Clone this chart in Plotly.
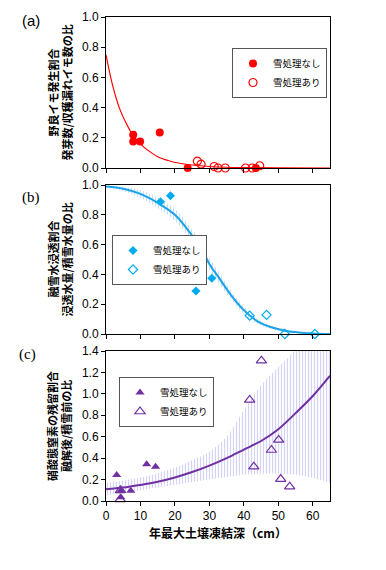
import plotly.graph_objects as go

# ---------------- data ----------------
# (a) volunteer potato emergence ratio
a_no_x = [7.9, 7.9, 9.9, 15.6, 23.7, 43.5]
a_no_y = [0.22, 0.175, 0.175, 0.235, 0.0, 0.0]
a_yes_x = [26.5, 27.6, 31.4, 32.5, 34.6, 40.5, 42.4, 44.6]
a_yes_y = [0.045, 0.025, 0.01, 0.0, 0.0, 0.0, 0.0, 0.015]
a_fit_x = [0, 2, 4, 6, 8, 10, 12, 15, 18, 21, 25, 30, 35, 40, 50, 65]
a_fit_y = [0.75, 0.54, 0.39, 0.29, 0.21, 0.16, 0.12, 0.075, 0.05, 0.033, 0.02, 0.01, 0.005, 0.003, 0.001, 0.0]

# (b) snowmelt infiltration ratio
b_no_x = [15.8, 18.7, 26.1, 30.7]
b_no_y = [0.888, 0.928, 0.289, 0.374]
b_yes_x = [41.7, 46.6, 51.9, 60.6]
b_yes_y = [0.123, 0.128, 0.0, 0.0]
b_fit_x = [0, 5, 10, 15, 20, 25, 28, 30, 33, 36, 40, 44, 48, 52, 56, 60, 65]
b_fit_y = [0.99, 0.975, 0.94, 0.88, 0.80, 0.66, 0.56, 0.47, 0.37, 0.27, 0.16, 0.085, 0.045, 0.022, 0.01, 0.004, 0.0]
b_lo = [0.985, 0.96, 0.915, 0.845, 0.76, 0.62, 0.52, 0.43, 0.33, 0.24, 0.135, 0.068, 0.033, 0.014, 0.006, 0.002, 0.0]
b_hi = [0.995, 0.99, 0.965, 0.915, 0.84, 0.70, 0.60, 0.51, 0.41, 0.30, 0.185, 0.10, 0.057, 0.03, 0.014, 0.006, 0.001]

# (c) residual nitrate ratio
c_no_x = [3.1, 4.3, 4.3, 7.2, 11.8, 14.4]
c_no_y = [0.243, 0.096, 0.035, 0.096, 0.342, 0.32]
c_yes_x = [4.1, 4.2, 41.7, 45.1, 42.9, 48.0, 50.1, 50.7, 53.3]
c_yes_y = [0.015, 0.1, 0.943, 1.31, 0.32, 0.476, 0.57, 0.205, 0.134]
c_fit_x = [0, 5, 10, 15, 20, 25, 30, 35, 40, 45, 50, 55, 60, 65]
c_fit_y = [0.11, 0.125, 0.15, 0.18, 0.22, 0.27, 0.33, 0.40, 0.48, 0.56, 0.67, 0.82, 0.98, 1.17]
c_lo = [0.05, 0.075, 0.1, 0.125, 0.15, 0.175, 0.2, 0.225, 0.245, 0.255, 0.255, 0.245, 0.215, 0.17]
c_hi = [0.17, 0.19, 0.22, 0.26, 0.31, 0.38, 0.46, 0.60, 0.85, 1.08, 1.25, 1.42, 1.8, 2.3]

x_ticks = [0, 10, 20, 30, 40, 50, 60]
lab_no = "雪処理なし"
lab_yes = "雪処理あり"

RED = "#ff0000"
BLUE = "#00aaee"
BLUE_L = "#8cbcf0"
PUR = "#7030a0"
PUR_L = "#a8a8f2"
JP = "Noto Sans CJK JP"
NUM = "Liberation Sans, Arial"

fig = go.Figure()

# ---- panel (a)
fig.add_trace(go.Scatter(x=a_fit_x, y=a_fit_y, mode="lines", line=dict(color=RED, width=1.2, shape="spline"),
                         showlegend=False, xaxis="x", yaxis="y", cliponaxis=False))
fig.add_trace(go.Scatter(x=a_no_x, y=a_no_y, mode="markers", name=lab_no,
                         marker=dict(symbol="circle", size=8, color=RED),
                         xaxis="x", yaxis="y", legend="legend", cliponaxis=False))
fig.add_trace(go.Scatter(x=a_yes_x, y=a_yes_y, mode="markers", name=lab_yes,
                         marker=dict(symbol="circle-open", size=8, color=RED, line=dict(width=1.2)),
                         xaxis="x", yaxis="y", legend="legend", cliponaxis=False))

# ---- panel (b)
fig.add_trace(go.Scatter(x=b_fit_x, y=b_lo, mode="lines", line=dict(width=0, shape="spline"),
                         showlegend=False, hoverinfo="skip", xaxis="x2", yaxis="y2"))
fig.add_trace(go.Scatter(x=b_fit_x, y=b_hi, mode="lines", line=dict(width=0, shape="spline"), fill="tonexty",
                         fillcolor="rgba(0,0,0,0)",
                         fillpattern=dict(shape="|", fgcolor=BLUE_L, bgcolor="rgba(255,255,255,0)", size=3, solidity=0.4),
                         showlegend=False, hoverinfo="skip", xaxis="x2", yaxis="y2"))
fig.add_trace(go.Scatter(x=b_fit_x, y=b_fit_y, mode="lines", line=dict(color="#1aa3e8", width=2, shape="spline"),
                         showlegend=False, xaxis="x2", yaxis="y2", cliponaxis=False))
fig.add_trace(go.Scatter(x=b_no_x, y=b_no_y, mode="markers", name=lab_no,
                         marker=dict(symbol="diamond", size=7, color=BLUE),
                         xaxis="x2", yaxis="y2", legend="legend2", cliponaxis=False))
fig.add_trace(go.Scatter(x=b_yes_x, y=b_yes_y, mode="markers", name=lab_yes,
                         marker=dict(symbol="diamond-open", size=7, color=BLUE, line=dict(width=1.2)),
                         xaxis="x2", yaxis="y2", legend="legend2", cliponaxis=False))

# ---- panel (c)
fig.add_trace(go.Scatter(x=c_fit_x, y=c_lo, mode="lines", line=dict(width=0, shape="spline"),
                         showlegend=False, hoverinfo="skip", xaxis="x3", yaxis="y3"))
fig.add_trace(go.Scatter(x=c_fit_x, y=c_hi, mode="lines", line=dict(width=0, shape="spline"), fill="tonexty",
                         fillcolor="rgba(0,0,0,0)",
                         fillpattern=dict(shape="|", fgcolor=PUR_L, bgcolor="rgba(255,255,255,0)", size=3, solidity=0.4),
                         showlegend=False, hoverinfo="skip", xaxis="x3", yaxis="y3"))
fig.add_trace(go.Scatter(x=c_fit_x, y=c_fit_y, mode="lines", line=dict(color=PUR, width=2, shape="spline"),
                         showlegend=False, xaxis="x3", yaxis="y3"))
fig.add_trace(go.Scatter(x=c_no_x, y=c_no_y, mode="markers", name=lab_no,
                         marker=dict(symbol="triangle-up", size=8, color=PUR),
                         xaxis="x3", yaxis="y3", legend="legend3", cliponaxis=False))
fig.add_trace(go.Scatter(x=c_yes_x, y=c_yes_y, mode="markers", name=lab_yes,
                         marker=dict(symbol="triangle-up-open", size=9, color=PUR, line=dict(width=1.2)),
                         xaxis="x3", yaxis="y3", legend="legend3", cliponaxis=False))

# page body has an 8px default margin: the figure is drawn 8px in from the window corner
OFF = 8
W, H = 386 - OFF, 570 - OFF
def px(x):
    return (x - OFF) / W
def py(y):
    return 1 - (y - OFF) / H

xdom = [px(106), px(330)]
def ydom(top, bot):
    return [py(bot), py(top)]

axis_common = dict(showline=True, linecolor="black", linewidth=1, mirror=True, ticks="outside",
                   ticklen=4, tickcolor="black", showgrid=False, zeroline=False, automargin=False,
                   tickfont=dict(family=NUM, size=12, color="black"))

xa = dict(axis_common, range=[0, 65], tickvals=x_ticks, domain=xdom)
fig.update_layout(
    width=W, height=H, margin=dict(l=0, r=0, t=0, b=0, autoexpand=False),
    paper_bgcolor="white", plot_bgcolor="white",
    xaxis=dict(xa, showticklabels=False, anchor="y"),
    yaxis=dict(axis_common, range=[0, 1.0], dtick=0.2, tickformat=".1f", domain=ydom(17, 168), anchor="x"),
    xaxis2=dict(xa, showticklabels=False, anchor="y2"),
    yaxis2=dict(axis_common, range=[0, 1.0], dtick=0.2, tickformat=".1f", domain=ydom(185, 334), anchor="x2"),
    xaxis3=dict(xa, showticklabels=True, anchor="y3"),
    yaxis3=dict(axis_common, range=[0, 1.4], dtick=0.2, tickformat=".1f", domain=ydom(351, 501), anchor="x3"),
    showlegend=True,
)

leg_common = dict(bgcolor="white", bordercolor="#555555", borderwidth=1, xanchor="left", yanchor="top",
                  font=dict(family=JP, size=9.5, color="black"), itemwidth=30, tracegroupgap=0,
                  traceorder="normal")
fig.update_layout(
    legend=dict(leg_common, x=px(232), y=py(48)),
    legend2=dict(leg_common, x=px(112), y=py(235)),
    legend3=dict(leg_common, x=px(119), y=py(377)),
)

# y-axis titles (two lines each) and panel labels
titles = [
    ("野良イモ発生割合", "発芽数/収穫漏れイモ数の比", (17 + 168) / 2),
    ("融雪水浸透割合", "浸透水量/積雪水量の比", (185 + 334) / 2),
    ("硝酸態窒素の残留割合", "融解後/積雪前の比", (351 + 501) / 2),
]
for l1, l2, yc in titles:
    for txt, xc in ((l1, 52), (l2, 66)):
        fig.add_annotation(text=txt, x=px(xc), y=py(yc), xref="paper", yref="paper",
                           textangle=-90, showarrow=False, xanchor="center", yanchor="middle",
                           font=dict(family=JP, size=11, color="black", weight="bold"))

panel_labels = [("(a)", 31, 20, NUM), ("(b)", 31, 197, "Liberation Serif"), ("(c)", 27, 354, "Liberation Serif")]
for txt, xc, yc, fam in panel_labels:
    fig.add_annotation(text=txt, x=px(xc), y=py(yc), xref="paper", yref="paper", showarrow=False,
                       xanchor="center", yanchor="middle", font=dict(family=fam, size=15, color="black"))

fig.add_annotation(text="年最大土壌凍結深（cm）", x=px(218), y=py(532), xref="paper", yref="paper",
                   showarrow=False, xanchor="center", yanchor="middle",
                   font=dict(family=JP, size=12, color="black", weight="bold"))

fig.write_html("out.html")
